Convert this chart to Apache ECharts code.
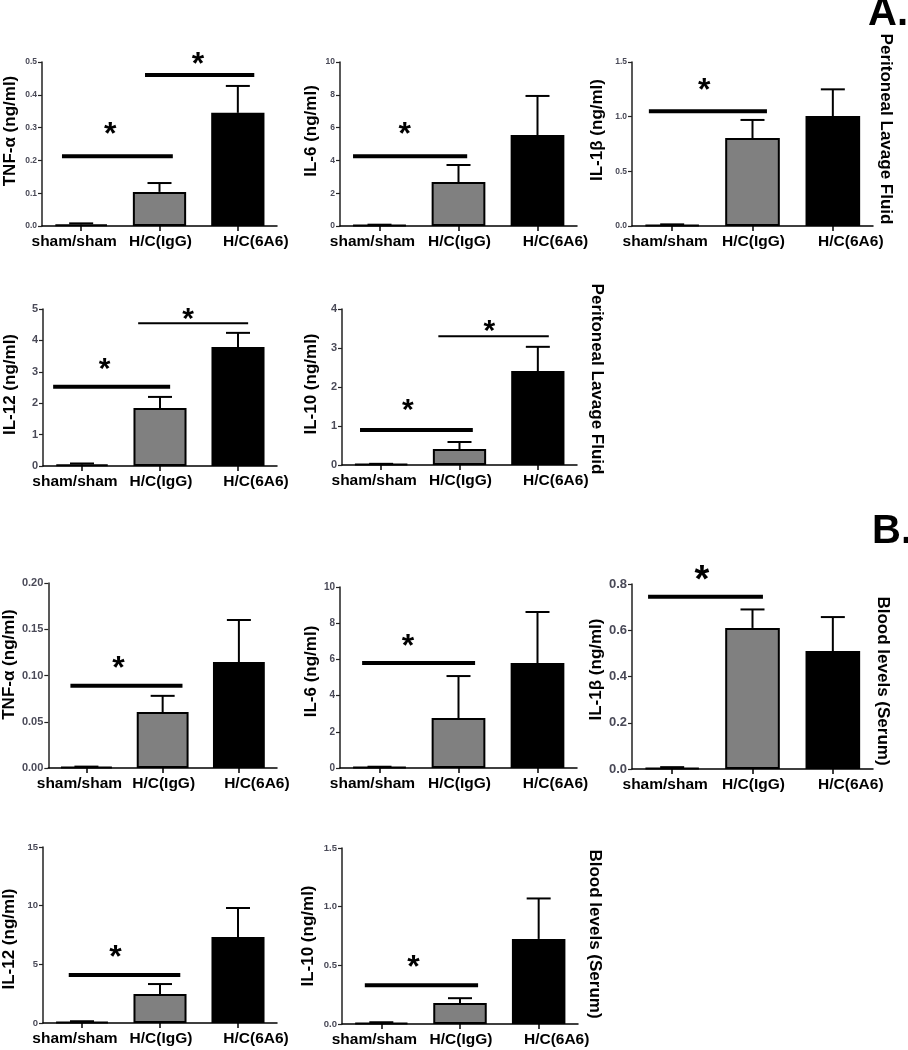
<!DOCTYPE html>
<html><head><meta charset="utf-8">
<script src="https://cdn.jsdelivr.net/npm/echarts@6/dist/echarts.min.js"></script>
<style>html,body{margin:0;padding:0;background:#fff}#c{width:908px;height:1050px}</style>
</head><body><div id="c"></div><script>
// ---------- DATA ----------
const categories = ['sham/sham', 'H/C(IgG)', 'H/C(6A6)'];

// A. Peritoneal lavage fluid: bar means and upper error-bar ends
const tnfPLF   = [0.005, 0.104, 0.345];  const tnfPLFErr   = [0.008, 0.131, 0.427];
const il6PLF   = [0.05, 2.68, 5.55];     const il6PLFErr   = [0.08, 3.72, 7.93];
const il1bPLF  = [0.01, 0.805, 1.006];   const il1bPLFErr  = [0.015, 0.97, 1.25];
const il12PLF  = [0.05, 1.85, 3.79];     const il12PLFErr  = [0.08, 2.2, 4.24];
const il10PLF  = [0.02, 0.41, 2.41];     const il10PLFErr  = [0.03, 0.59, 3.03];
// B. Serum
const tnfSer   = [0.001, 0.0605, 0.1146]; const tnfSerErr  = [0.0015, 0.078, 0.16];
const il6Ser   = [0.05, 2.76, 5.8];      const il6SerErr   = [0.07, 5.08, 8.62];
const il1bSer  = [0.005, 0.61, 0.51];    const il1bSerErr  = [0.008, 0.69, 0.657];
const il12Ser  = [0.1, 2.47, 7.33];      const il12SerErr  = [0.15, 3.32, 9.8];
const il10Ser  = [0.01, 0.18, 0.725];    const il10SerErr  = [0.015, 0.22, 1.07];

// y tick labels
const tnfPLFTicks  = ['0.0', '0.1', '0.2', '0.3', '0.4', '0.5'];
const il6PLFTicks  = ['0', '2', '4', '6', '8', '10'];
const il1bPLFTicks = ['0.0', '0.5', '1.0', '1.5'];
const il12PLFTicks = ['0', '1', '2', '3', '4', '5'];
const il10PLFTicks = ['0', '1', '2', '3', '4'];
const tnfSerTicks  = ['0.00', '0.05', '0.10', '0.15', '0.20'];
const il6SerTicks  = ['0', '2', '4', '6', '8', '10'];
const il1bSerTicks = ['0.0', '0.2', '0.4', '0.6', '0.8'];
const il12SerTicks = ['0', '5', '10', '15'];
const il10SerTicks = ['0.0', '0.5', '1.0', '1.5'];

// significance brackets: [from (category units 0..3), to, line value, star position, star value]
const tnfPLFSig  = [[0.255, 1.67, 0.213, 0.87, 0.30], [1.315, 2.71, 0.46, 1.99, 0.515]];
const il6PLFSig  = [[0.165, 1.61, 4.25, 0.82, 6.0]];
const il1bPLFSig = [[0.21, 1.68, 1.05, 0.9, 1.31]];
const il12PLFSig = [[0.13, 1.63, 2.52, 0.79, 3.3], [1.22, 2.63, 4.55, 1.86, 4.9]];
const il10PLFSig = [[0.23, 1.67, 0.9, 0.84, 1.59], [1.23, 2.64, 3.3, 1.88, 3.6]];
const tnfSerSig  = [[0.29, 1.76, 0.089, 0.92, 0.116]];
const il6SerSig  = [[0.28, 1.71, 5.8, 0.86, 7.1]];
const il1bSerSig = [[0.2, 1.63, 0.745, 0.87, 0.85]];
const il12SerSig = [[0.33, 1.76, 4.1, 0.93, 6.2]];
const il10SerSig = [[0.29, 1.73, 0.33, 0.91, 0.545]];

const yNames = ['TNF-α (ng/ml)', 'IL-6 (ng/ml)', 'IL-1β (ng/ml)', 'IL-12 (ng/ml)', 'IL-10 (ng/ml)'];
const sideLabels = ['Peritoneal Lavage Fluid', 'Blood levels (Serum)'];
const panelLetters = ['A.', 'B.'];

// ---------- LAYOUT / STYLE ----------
const FONT = '"Liberation Sans", Arial, sans-serif';
const fills = ['#ffffff', '#808080', '#000000'];
const panels = [
  {name: yNames[0], vals: tnfPLF, err: tnfPLFErr, ticks: tnfPLFTicks, sig: tnfPLFSig, left: 42, top: 62, width: 235, height: 164, gap: 23, shift: 13, tf: 8.5, sw: [4, 4], star: 32},
  {name: yNames[1], vals: il6PLF, err: il6PLFErr, ticks: il6PLFTicks, sig: il6PLFSig, left: 340, top: 62, width: 237, height: 164, gap: 20, shift: 13, tf: 8.5, sw: [4], star: 32},
  {name: yNames[2], vals: il1bPLF, err: il1bPLFErr, ticks: il1bPLFTicks, sig: il1bPLFSig, left: 632, top: 62, width: 241, height: 164, gap: 26, shift: 14, tf: 8.5, sw: [4], star: 32},
  {name: yNames[3], vals: il12PLF, err: il12PLFErr, ticks: il12PLFTicks, sig: il12PLFSig, left: 43, top: 309, width: 234, height: 157, gap: 24, shift: 3, tf: 11, sw: [4, 2], star: 30},
  {name: yNames[4], vals: il10PLF, err: il10PLFErr, ticks: il10PLFTicks, sig: il10PLFSig, left: 342, top: 309, width: 235, height: 156, gap: 22, shift: 3, tf: 11, sw: [4, 2], star: 30},
  {name: yNames[0], vals: tnfSer, err: tnfSerErr, ticks: tnfSerTicks, sig: tnfSerSig, left: 42, top: 583, width: 235, height: 185, gap: 24, shift: 11, tf: 11, sw: [4], star: 32},
  {name: yNames[1], vals: il6Ser, err: il6SerErr, ticks: il6SerTicks, sig: il6SerSig, left: 340, top: 587, width: 237, height: 181, gap: 20, shift: 6, tf: 10, sw: [4], star: 32},
  {name: yNames[2], vals: il1bSer, err: il1bSerErr, ticks: il1bSerTicks, sig: il1bSerSig, left: 632, top: 584, width: 241, height: 185, gap: 26, shift: 7, tf: 13, sw: [4], star: 38},
  {name: yNames[3], vals: il12Ser, err: il12SerErr, ticks: il12SerTicks, sig: il12SerSig, left: 42, top: 847, width: 235, height: 176, gap: 25, shift: -4, tf: 9.5, sw: [4], star: 32},
  {name: yNames[4], vals: il10Ser, err: il10SerErr, ticks: il10SerTicks, sig: il10SerSig, left: 342, top: 848, width: 236, height: 176, gap: 25, shift: 0, tf: 9.5, sw: [4], star: 32}
];
const labelShift = [-7, 1, 18];

const grids = [], xAxes = [], yAxes = [], series = [];
panels.forEach((p, k) => {
  grids.push({left: p.left, top: p.top, width: p.width, height: p.height, containLabel: false});
  xAxes.push({
    type: 'category', gridIndex: k,
    data: categories.map((c, i) => {
      const s = labelShift[i];
      return {value: c, textStyle: {padding: s >= 0 ? [0, 0, 0, 2 * s] : [0, -2 * s, 0, 0]}};
    }),
    axisLine: {lineStyle: {color: '#000', width: 1.5}},
    axisTick: {show: true, alignWithLabel: true, length: 5, lineStyle: {color: '#000', width: 1.5}},
    axisLabel: {interval: 0, margin: 8, color: '#000', fontWeight: 'bold', fontSize: 15.5, fontFamily: FONT},
    splitLine: {show: false}
  });
  const yMax = parseFloat(p.ticks[p.ticks.length - 1]);
  const yInt = parseFloat(p.ticks[1]);
  yAxes.push({
    type: 'value', gridIndex: k, min: 0, max: yMax, interval: yInt,
    name: p.name, nameLocation: 'middle', nameGap: p.gap,
    nameTextStyle: {fontSize: 17, fontWeight: 'bold', color: '#000', fontFamily: FONT,
      padding: p.shift >= 0 ? [0, 0, 0, 2 * p.shift] : [0, -2 * p.shift, 0, 0]},
    axisLine: {show: true, lineStyle: {color: '#222', width: 1.5}},
    axisTick: {show: true, length: 4, lineStyle: {color: '#222', width: 1.2}},
    axisLabel: {margin: 5, fontSize: p.tf, fontWeight: 'bold', color: '#4a4a58', fontFamily: FONT,
      formatter: (v, i) => p.ticks[i] !== undefined ? p.ticks[i] : ''},
    splitLine: {show: false}
  });
  series.push({
    type: 'bar', xAxisIndex: k, yAxisIndex: k, barWidth: '68%', z: 2,
    data: p.vals.map((v, i) => ({value: v, itemStyle: {color: fills[i]}})),
    itemStyle: {borderColor: '#000', borderWidth: 2}
  });
  series.push({
    type: 'custom', xAxisIndex: k, yAxisIndex: k, z: 3, clip: false,
    data: p.vals.map((v, i) => [i, v, p.err[i]]),
    renderItem: (params, api) => {
      const i = api.value(0);
      const a = api.coord([i, api.value(1)]);
      const b = api.coord([i, api.value(2)]);
      const hw = 12;
      return {type: 'group', children: [
        {type: 'line', shape: {x1: a[0], y1: a[1], x2: b[0], y2: b[1]}, style: {stroke: '#000', lineWidth: 2}},
        {type: 'line', shape: {x1: b[0] - hw, y1: b[1], x2: b[0] + hw, y2: b[1]}, style: {stroke: '#000', lineWidth: 2}}
      ]};
    }
  });
  series.push({
    type: 'custom', xAxisIndex: k, yAxisIndex: k, z: 4, clip: false,
    data: p.sig.map(s => [0, s[2]]),
    renderItem: (params, api) => {
      const s = p.sig[params.dataIndex];
      const band = api.size([1, 0])[0];
      const base = api.coord([0, s[2]]);
      const x0 = base[0] - band / 2;
      const st = api.coord([0, s[4]]);
      const fs = p.star;
      return {type: 'group', children: [
        {type: 'line', shape: {x1: x0 + s[0] * band, y1: base[1], x2: x0 + s[1] * band, y2: base[1]},
          style: {stroke: '#000', lineWidth: p.sw[params.dataIndex]}},
        {type: 'text', x: x0 + s[3] * band, y: st[1] + 0.25 * fs,
          style: {text: '*', font: 'bold ' + fs + 'px ' + FONT, fill: '#000', align: 'center', verticalAlign: 'middle'}}
      ]};
    }
  });
});

const sideText = (txt, x, y) => ({type: 'text', x: x, y: y, rotation: -Math.PI / 2,
  style: {text: txt, font: 'bold 17px ' + FONT, fill: '#000', align: 'center', verticalAlign: 'middle'}});
const graphic = [
  {type: 'text', x: 868, y: 14, style: {text: panelLetters[0], font: 'bold 40px ' + FONT, fill: '#000', align: 'left', verticalAlign: 'middle'}},
  {type: 'text', x: 872, y: 532, style: {text: panelLetters[1], font: 'bold 40px ' + FONT, fill: '#000', align: 'left', verticalAlign: 'middle'}},
  sideText(sideLabels[0], 886, 129),
  sideText(sideLabels[0], 597, 379),
  sideText(sideLabels[1], 883, 681),
  sideText(sideLabels[1], 595, 934)
];

const chart = echarts.init(document.getElementById('c'), null, {renderer: 'canvas', width: 908, height: 1050});
chart.setOption({
  backgroundColor: '#fff', animation: false,
  textStyle: {fontFamily: FONT},
  grid: grids, xAxis: xAxes, yAxis: yAxes, series: series, graphic: graphic
});
</script></body></html>
